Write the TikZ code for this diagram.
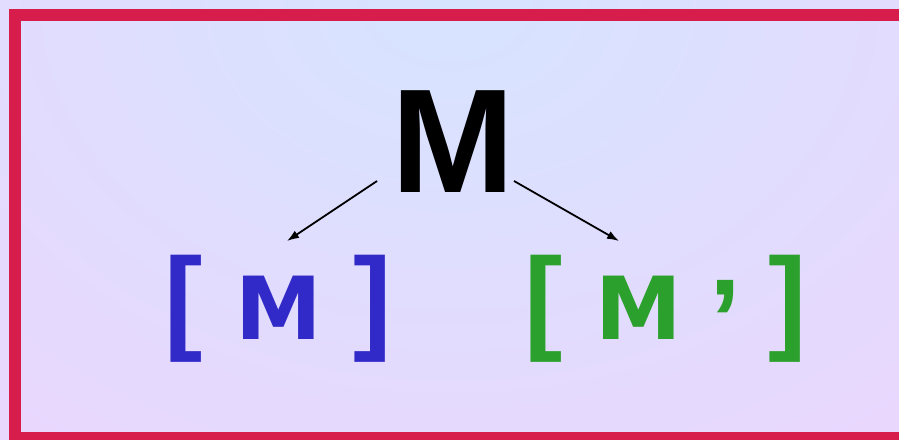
\documentclass[tikz,border=0pt]{standalone}
\usepackage{fontspec}
\setmainfont{Liberation Sans}
\newfontfamily\dejabold{DejaVu Sans}[BoldFont={DejaVu Sans Bold}]
\usetikzlibrary{arrows.meta}
\definecolor{bgtop}{RGB}{214,228,255}
\definecolor{bgout}{RGB}{236,213,254}
\definecolor{framec}{RGB}{214,29,76}
\definecolor{blueM}{RGB}{50,42,200}
\definecolor{greenM}{RGB}{44,160,44}
\tikzset{
  glyph/.style={inner sep=0pt, outer sep=0pt, anchor=base},
  bigM/.style={glyph, font=\fontsize{148}{148}\selectfont\bfseries},
  brk/.style={glyph, font=\fontsize{115}{115}\selectfont\bfseries},
  smallM/.style={glyph, font=\dejabold\fontsize{87}{87}\selectfont\bfseries},
  conn/.style={line width=1.8pt, black, -{Latex[length=12pt,width=8.5pt]}},
}
\begin{document}
\begin{tikzpicture}[x=1pt,y=-1pt]
\useasboundingbox (0,0) rectangle (899,439);
\begin{scope}
\clip (0,0) rectangle (899,439);
\fill[bgout] (0,0) rectangle (899,439);
\shade[inner color=bgtop, outer color=bgout] (450,0) ellipse [x radius=820, y radius=620];
\draw[line width=12pt, framec] (15,14.5) rectangle (920,438);
\end{scope}
% big M
\node[bigM] (M) at (453.5,192) {M};
% blue group
\node[brk, blueM] (lb1) at (183.5,338) {[};
\node[smallM, blueM] (m1) at (278.5,339) {M};
\node[brk, blueM] (rb1) at (373,338) {]};
% green group
\node[brk, greenM] (lb2) at (544,338) {[};
\node[smallM, greenM] (m2) at (639,339) {M};
\node[brk, greenM] (ap) at (725.5,359) {’};
\node[brk, greenM] (rb2) at (787.5,338) {]};
% connectors
\coordinate (s1) at (377,181);
\coordinate (e1) at (287,241);
\coordinate (s2) at (514,181);
\coordinate (e2) at (619,241);
\draw[conn] (s1) -- (e1);
\draw[conn] (s2) -- (e2);
\end{tikzpicture}
\end{document}
